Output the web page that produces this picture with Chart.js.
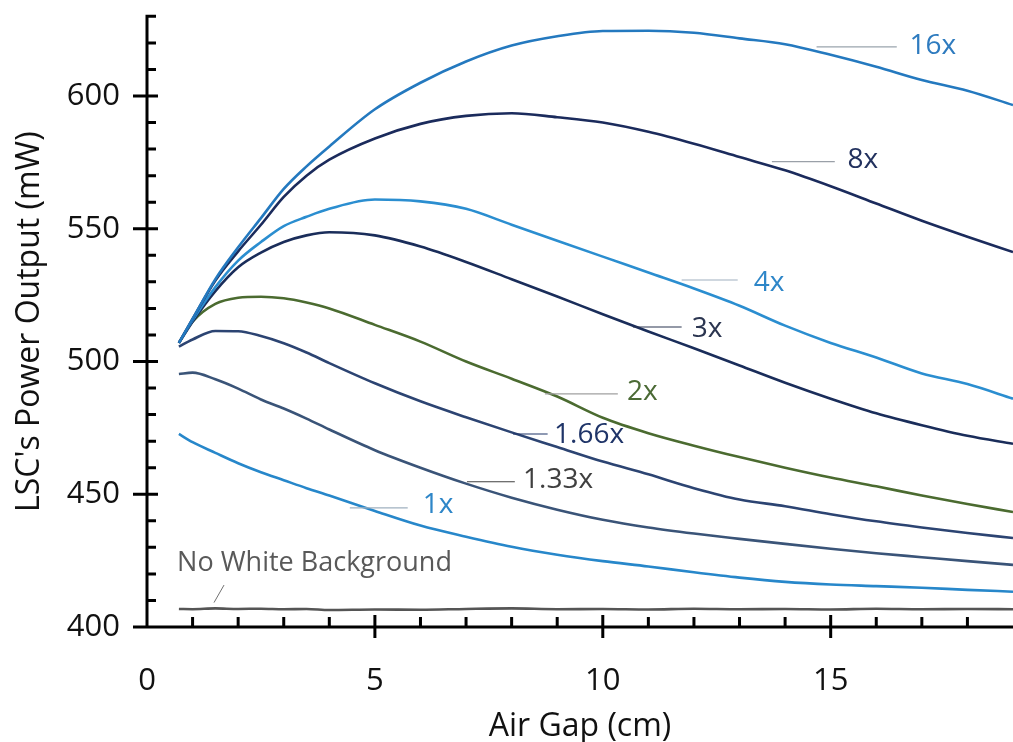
<!DOCTYPE html>
<html><head><meta charset="utf-8">
<script src="https://cdn.jsdelivr.net/npm/chart.js@4.4.0/dist/chart.umd.min.js"></script>
<style>html,body{margin:0;padding:0;background:#fff;overflow:hidden}canvas{display:block}</style>
</head><body>
<canvas id="c" width="1013" height="742"></canvas>
<script>
// ---- data ----
const airGap = [0.7,1,1.5,2,2.5,3,3.5,4,5,6,7,8,9,10,11,12,13,14,15,16,17,18,19];
const power16x = [507,516,531,543,554,565,573.5,581,595,605,613,619,622.5,624.5,624.6,623.8,621.7,619.5,615.5,611,606,602,596.6];
const power8x  = [507,516,530.5,541.5,551.5,562,570,576,584,589.5,592.5,593.5,592,590,586.5,582,577,572,566,559.5,553,547,541.2];
const power4x  = [507,515.5,528,538,545,551,554.5,557.5,561,560.3,557.5,551.5,545.5,539.5,533.5,527.5,521,513.5,507,501.5,495.5,491.5,486];
const power3x  = [507,515,526.5,535.5,541,545,547.5,548.7,547.5,543.3,537.5,531,524.5,517.8,511.3,505,498.5,492,486,480.5,476,472,469];
const power2x  = [507,515,521.7,524,524.4,523.8,522.2,520,513.8,507.5,500,493.5,486.8,478.8,473,468.3,464,460,456.3,453,449.5,446.3,443.3];
const power166x= [505.6,508.3,511.5,511.4,509.6,506.9,503.4,499.4,491.8,485,479,473.3,467.8,462.3,457.5,452.3,448,445.5,442.5,439.8,437.5,435.4,433.5];
const power133x= [495.3,495.8,493.3,489.8,485.7,482.3,478.5,474.4,466.6,460,454,448.7,444.2,440.4,437.5,435.2,433.2,431.3,429.5,427.8,426.3,424.8,423.4];
const power1x  = [472.7,469.6,465.6,461.7,458.3,455.3,452.3,449.5,443.7,438.2,434,430.2,427.2,424.8,422.8,420.6,418.6,417,416,415.4,414.8,414,413.3];
const powerNoWhite = [406.8,406.7,407,406.8,406.9,406.7,406.8,406.4,406.6,406.5,406.8,407,406.7,406.8,406.6,406.9,406.7,406.8,406.6,406.9,406.7,406.8,406.7];
const seriesLabels = ['16x','8x','4x','3x','2x','1.66x','1.33x','1x','No White Background'];
const xTickValues = [0,5,10,15];
const yTickValues = [400,450,500,550,600];

// ---- styles ----
const FONT = "'Open Sans', 'Noto Sans', sans-serif";
const seriesValues = [power16x,power8x,power4x,power3x,power2x,power166x,power133x,power1x,powerNoWhite];
const lineColors = ['#2479bf','#1b2b5c','#2b8ed0','#1a2d5a','#4b6b30','#2c4472','#3a5478','#2787ca','#555555'];

// label annotations (data coordinates)
const notes = [
  {i:0, x1:14.69, x2:16.45, y:618.5, tx:16.73, ty:618.9, color:'#2e7bbf', lc:'#9aa4ad'},
  {i:1, x1:13.71, x2:15.09, y:575.3, tx:15.37, ty:575.9, color:'#22315e', lc:'#9aa0a8'},
  {i:2, x1:11.73, x2:12.96, y:530.7, tx:13.31, ty:529.6, color:'#2e86c8', lc:'#9fb0bf'},
  {i:3, x1:10.66, x2:11.73, y:513.0, tx:11.95, ty:512.2, color:'#2b3550', lc:'#2b3550'},
  {i:4, x1:8.73, x2:10.33, y:487.8, tx:10.53, ty:488.5, color:'#4b6a35', lc:'#a0a0a0'},
  {i:5, x1:8.03, x2:8.79, y:472.7, tx:8.93, ty:472.3, color:'#1f3468', lc:'#1f3468'},
  {i:6, x1:7.02, x2:8.07, y:454.7, tx:8.25, ty:455.4, color:'#404040', lc:'#404040'},
  {i:7, x1:4.45, x2:5.72, y:444.9, tx:6.05, ty:446.0, color:'#2e86c8', lc:'#9fb0bf'},
];
const noWhiteNote = {i:8, tx:0.66, ty:424.1, lx1:1.69, ly1:415.8, lx2:1.47, ly2:409.2, color:'#595959', lc:'#707070'};

const annotatePlugin = {
  id:'annotate',
  afterDatasetsDraw(chart){
    const ctx = chart.ctx, xs = chart.scales.x, ys = chart.scales.y;
    ctx.save();
    ctx.textAlign='left'; ctx.textBaseline='middle';
    notes.forEach(n=>{
      ctx.strokeStyle=n.lc; ctx.lineWidth=1.2;
      ctx.beginPath();
      ctx.moveTo(xs.getPixelForValue(n.x1), ys.getPixelForValue(n.y));
      ctx.lineTo(xs.getPixelForValue(n.x2), ys.getPixelForValue(n.y));
      ctx.stroke();
      ctx.fillStyle=n.color; ctx.font = "28px "+FONT;
      ctx.fillText(seriesLabels[n.i], xs.getPixelForValue(n.tx), ys.getPixelForValue(n.ty));
    });
    const w = noWhiteNote;
    ctx.strokeStyle=w.lc; ctx.lineWidth=1;
    ctx.beginPath();
    ctx.moveTo(xs.getPixelForValue(w.lx1), ys.getPixelForValue(w.ly1));
    ctx.lineTo(xs.getPixelForValue(w.lx2), ys.getPixelForValue(w.ly2));
    ctx.stroke();
    ctx.fillStyle=w.color; ctx.font="27px "+FONT;
    ctx.fillText(seriesLabels[w.i], xs.getPixelForValue(w.tx), ys.getPixelForValue(w.ty));
    ctx.restore();
  }
};

const axesPlugin = {
  id:'axesDraw',
  afterDraw(chart){
    const ctx = chart.ctx, xs = chart.scales.x, ys = chart.scales.y, a = chart.chartArea;
    ctx.save();
    ctx.strokeStyle='#000'; ctx.lineWidth=3; ctx.lineCap='butt';
    ctx.beginPath();
    ctx.moveTo(a.left, a.top-1.5); ctx.lineTo(a.left, a.bottom+1.5);
    ctx.moveTo(a.left-1.5, a.bottom); ctx.lineTo(a.right, a.bottom);
    for(let v=ys.min; v<=ys.max; v+=10){
      const py = ys.getPixelForValue(v);
      if (v % 50 === 0){ ctx.moveTo(a.left-14, py); ctx.lineTo(a.left+11, py); }
      else { ctx.moveTo(a.left, py); ctx.lineTo(a.left+9, py); }
    }
    for(let v=1; v<=18; v++){
      const px = xs.getPixelForValue(v);
      if (v % 5 === 0){ ctx.moveTo(px, a.bottom+11); ctx.lineTo(px, a.bottom-12); }
      else { ctx.moveTo(px, a.bottom); ctx.lineTo(px, a.bottom-10); }
    }
    ctx.stroke();
    ctx.restore();
  }
};

new Chart(document.getElementById('c'), {
  type:'line',
  data:{
    datasets: seriesValues.map((vals,k)=>({
      label: seriesLabels[k],
      data: airGap.map((x,j)=>({x:x, y:vals[j]})),
      borderColor: lineColors[k],
      borderWidth: 2.6,
      pointRadius: 0,
      fill:false,
      cubicInterpolationMode:'monotone'
    }))
  },
  options:{
    responsive:false, animation:false, devicePixelRatio:1,
    layout:{padding:{top:16.35, right:0, left:0, bottom:0}},
    plugins:{legend:{display:false}, tooltip:{enabled:false}},
    scales:{
      x:{type:'linear', min:0, max:19,
         afterFit(s){ s.height = 115; s.paddingLeft = 0; s.paddingRight = 0; },
         afterBuildTicks(s){ s.ticks = xTickValues.map(v=>({value:v})); },
         grid:{display:false, drawTicks:false}, border:{display:false},
         ticks:{font:{family:FONT, size:31}, color:'#111', padding:36, maxRotation:0},
         title:{display:true, text:'Air Gap (cm)', font:{family:FONT, size:32, lineHeight:1}, color:'#111', padding:{top:0,bottom:-1}}
      },
      y:{type:'linear', min:400, max:630,
         afterFit(s){ s.width = 147; s.paddingTop = 0; s.paddingBottom = 0; },
         afterBuildTicks(s){ s.ticks = yTickValues.map(v=>({value:v})); },
         grid:{display:false, drawTicks:false}, border:{display:false},
         ticks:{font:{family:FONT, size:31}, color:'#111', padding:27},
         title:{display:true, text:"LSC's Power Output (mW)", font:{family:FONT, size:32, lineHeight:1}, color:'#111', padding:{top:14,bottom:0}}
      }
    }
  },
  plugins:[annotatePlugin, axesPlugin]
});
</script>
</body></html>
